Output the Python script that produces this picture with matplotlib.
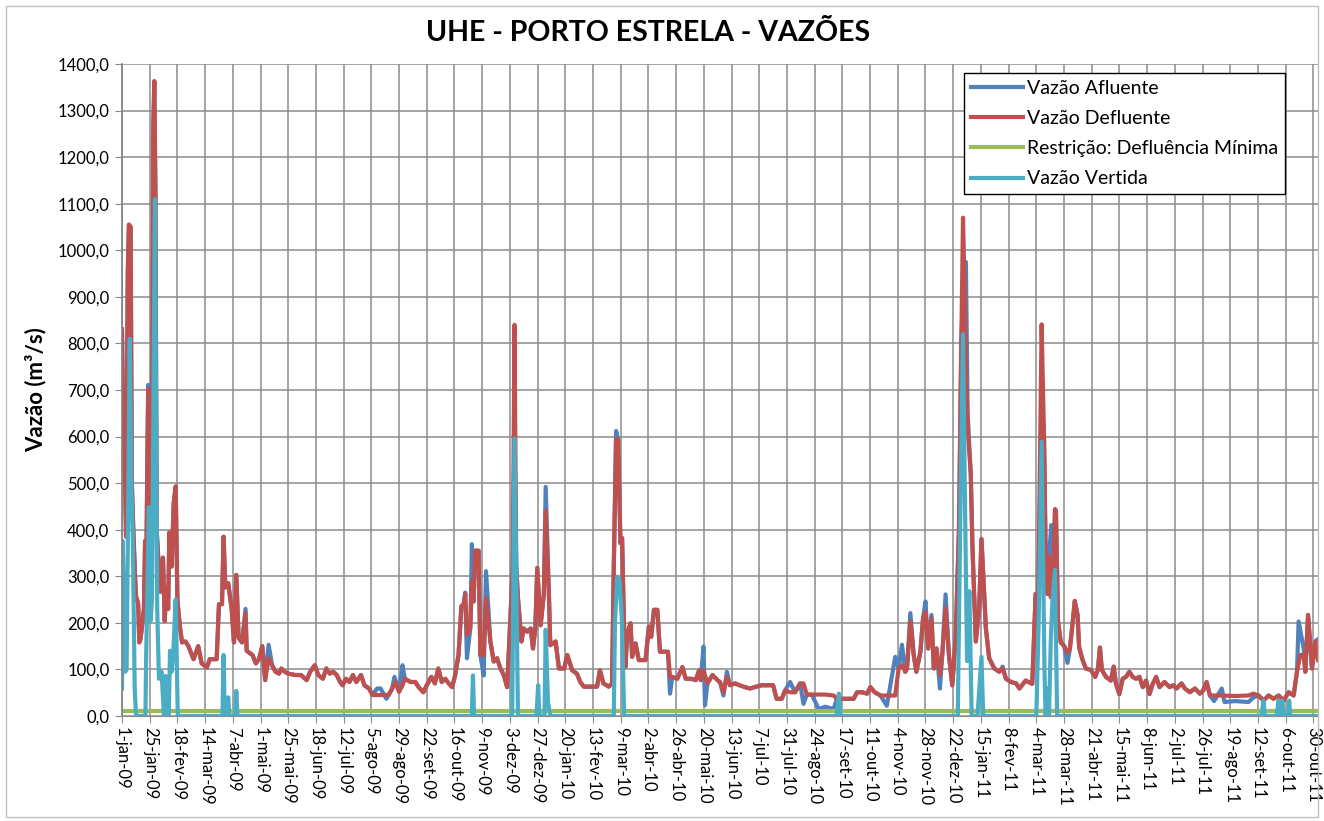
import matplotlib
matplotlib.use("Agg")
import matplotlib.pyplot as plt
from matplotlib.patches import Rectangle

# ---------------- data (days since 1-jan-2009, m3/s) ----------------
defl_days = [0, 1, 2, 3.5, 5, 6, 7.5, 8.5, 10, 12, 13, 14, 15, 16, 17, 19, 20, 21, 22, 22.7, 23.5, 24.4, 26, 27, 28, 29, 30,
             31.4, 33.4, 35.5, 37, 38.4, 40, 41, 43, 44.8, 46.5, 48, 50, 52, 55, 57.5, 62, 66, 69, 73.5, 76, 82, 84, 86.6,
             88, 89.5, 92, 95, 97, 99, 101, 104, 107, 108, 113, 116, 118.6, 121.5, 124, 127, 130, 133, 136, 138, 141, 144,
             150, 155, 160, 163, 167, 170, 174, 177, 180, 183, 186, 189, 191, 194, 197, 200, 203, 207, 210, 214, 217, 221,
             227, 231, 234, 237, 240, 243, 245, 250, 254, 257, 261, 264, 268, 271, 274, 277, 280, 283, 286, 288.6, 291.5,
             294, 296, 297.3, 298.8, 301.7, 303.1, 304.6, 306, 308.9, 310.4, 313.3, 315.3, 319.1, 322, 324.9, 327.8, 330.7,
             333.6, 336.5, 338.5, 340, 341.5, 343, 346, 348, 351, 354, 356, 358, 359.7, 362.6, 365.4, 367, 369.8, 371,
             375.6, 378.5, 383, 385.7, 388.6, 390, 394, 397, 400, 406, 411.5, 414, 417, 421.6, 424.5, 426, 428, 429.7,
             431.8, 433.2, 434.7, 436.1, 437.6, 440.5, 441.9, 444.8, 447.7, 450.6, 453.5, 456.4, 458.4, 460.8, 463.7, 466,
             469.4, 472.9, 474.7, 476.7, 481, 485.4, 488.3, 492.6, 497, 499.9, 501.3, 503.7, 507.1, 511.5, 515.8, 518, 521,
             524, 526.6, 531, 535, 539.6, 544, 548, 554, 560, 564, 567, 571.5, 574.4, 578.7, 583, 587.4, 590.3, 593.2,
             597.6, 603.4, 609.2, 616.4, 619.3, 623.7, 628, 633.8, 636.7, 641, 645.4, 648.3, 652, 657, 662.5, 669.8, 672.7,
             675.6, 678.5, 680, 682.9, 685.8, 688.1, 691.6, 693.9, 696, 698.3, 701.2, 703.2, 705.6, 708.5, 710.5, 713.4,
             716.3, 719.2, 722.1, 725, 727, 728.5, 730, 731.5, 733, 735.2, 736.7, 739.6, 742.5, 744.5, 748.3, 751.2, 755.6,
             759.9, 762.8, 765.7, 770.1, 774.5, 777.4, 782.7, 788.5, 791.4, 793.7, 796.6, 798.7, 800.1, 801.6, 803, 804.5,
             806.8, 808.2, 809, 810.8, 813.2, 816, 819, 821, 823.3, 825.3, 827.7, 829.1, 832, 834.9, 839.2, 843, 845.3,
             847.1, 848.8, 852.3, 856.6, 859, 861, 863.9, 866.8, 869.7, 872.6, 875.5, 878.4, 881.3, 884.2, 887.1, 890,
             892.9, 895.8, 898.7, 903, 907.4, 910.6, 913.4, 917.8, 920.7, 925, 929.4, 933.7, 936.6, 939.5, 942.4, 952.6,
             964.2, 975.8, 980.1, 984.5, 988.8, 993.2, 997.5, 1001.9, 1006.2, 1010.6, 1014.9, 1017.8, 1020.7, 1023.6, 1025,
             1027.4, 1030.8, 1033.7, 1036]
defl_vals = [830, 625, 620, 385, 950, 1055, 1050, 500, 385, 258, 250, 240, 158, 165, 185, 230, 376, 300, 560, 702, 650, 457, 500, 1250, 1363, 1110, 400,
             340, 267, 340, 204, 276, 230, 394, 321, 457, 493, 249, 195, 158, 160, 150, 122, 150, 113, 104, 122, 122, 240, 240,
             385, 276, 285, 230, 158, 303, 168, 158, 221, 140, 131, 113, 122, 150, 77, 124, 109, 95, 91, 102, 95, 91,
             88, 88, 77, 95, 109, 88, 80, 102, 91, 95, 88, 73, 66, 80, 73, 88, 73, 88, 66, 59, 45, 45,
             45, 45, 59, 73, 52, 66, 80, 73, 73, 62, 51, 66, 84, 70, 102, 73, 80, 70, 62, 88, 131,
             236, 240, 261, 174, 188, 290, 246, 355, 355, 131, 131, 253, 160, 117, 124, 102, 88,
             62, 217, 320, 840, 320, 253, 160, 188, 181, 188, 145, 188, 318, 195, 261, 441, 261, 152,
             160, 102, 102, 131, 109, 98, 91, 73, 63, 63, 63, 98, 70, 63, 70, 321, 594, 594,
             371, 382, 206, 105, 177, 199, 127, 156, 120, 120, 120, 192, 170, 228, 228, 138,
             138, 138, 84, 84, 80, 105, 80, 80, 77, 98, 77, 98, 70, 88, 77, 73, 51,
             84, 66, 70, 66, 62, 59, 62, 66, 66, 66, 37, 37, 55, 51, 51, 70, 70, 46,
             46, 46, 46, 44, 37, 37, 37, 37, 51, 51, 48, 62, 51, 44, 44, 44, 102,
             109, 95, 102, 203, 131, 95, 138, 210, 224, 145, 210, 102, 145, 88, 131, 232,
             131, 66, 167, 400, 800, 1070, 900, 700, 600, 521, 362, 160, 232, 380, 188, 124, 102,
             95, 102, 80, 73, 70, 59, 76, 69, 262, 255, 841, 596, 344, 262, 344, 255,
             300, 444, 440, 203, 158, 151, 136, 143, 196, 247, 218, 147, 121, 102, 99, 84, 99,
             147, 99, 84, 76, 106, 69, 47, 80, 84, 95, 84, 80, 84, 62, 76, 47,
             69, 84, 62, 73, 62, 66, 59, 70, 59, 51, 59, 48, 55, 73, 44, 44,
             43, 44, 48, 44, 33, 44, 37, 44, 33, 51, 44, 95, 131, 131, 95,
             217, 102, 160, 120]

aflu_days = [0, 1, 2, 3.5, 5, 6, 7.5, 8.5, 10, 12, 13, 14, 15, 16, 17, 19, 20, 21, 22, 22.7, 23.5, 24.4, 26, 27, 28, 29, 30,
             31.4, 33.4, 35.5, 37, 38.4, 40, 41, 43, 44.8, 46.5, 48, 50, 52, 55, 57.5, 62, 66, 69, 73.5, 76, 82, 84, 86.6,
             88, 89.5, 92, 95, 97, 99, 101, 104, 107, 108, 113, 116, 118.6, 121.5, 124, 127, 130, 133, 136, 138, 141, 144,
             150, 155, 160, 163, 167, 170, 174, 177, 180, 183, 186, 189, 191, 194, 197, 200, 203, 207, 210, 214, 217, 221,
             224, 229, 231, 234, 236, 240, 243, 245, 250, 254, 257, 261, 264, 268, 271, 274, 277, 280, 283, 286, 288.6, 291.5,
             294, 296, 297.3, 298.8, 301.7, 303.1, 304.6, 306, 308.9, 310.4, 313.3, 315.3, 319.1, 322, 324.9, 327.8, 330.7,
             333.6, 336.5, 338.5, 340, 341.5, 343, 346, 348, 351, 354, 356, 358, 359.7, 362.6, 365.4, 367, 369.8, 371,
             375.6, 378.5, 383, 385.7, 388.6, 390, 394, 397, 400, 406, 411.5, 414, 417, 421.6, 424.5, 426, 428, 429.7,
             431.8, 433.2, 434.7, 436.1, 437.6, 440.5, 441.9, 444.8, 447.7, 450.6, 453.5, 456.4, 458.4, 460.8, 463.7, 466,
             469.4, 472.9, 474.7, 476.7, 481, 485.4, 488.3, 492.6, 497, 499.9, 501.3, 503.7, 505, 507.1, 511.5, 515.8, 518, 521,
             524, 526.6, 531, 535, 539.6, 544, 548, 554, 560, 564, 567, 571.5, 574.4, 578.7, 583, 587.4, 590.3, 593.2,
             597.6, 603.4, 609.2, 616.4, 619.3, 623.7, 628, 633.8, 636.7, 641, 645.4, 648.3, 652, 657, 662.5, 669.8, 672.7,
             675.6, 678.5, 680, 682.9, 685.8, 688.1, 691.6, 693.9, 696, 698.3, 701.2, 703.2, 705.6, 708.5, 710.5, 713.4,
             716.3, 719.2, 722.1, 725, 727, 728.5, 731, 732.5, 735.2, 736.7, 739.6, 742.5, 744.5, 748.3, 751.2, 755.6,
             759.9, 762.8, 765.7, 770.1, 774.5, 777.4, 782.7, 788.5, 791.4, 793.7, 796.6, 798.7, 800.1, 801.6, 803, 805,
             806.8, 808.2, 809, 810.8, 813.2, 816, 819, 821, 823.3, 825.3, 827.7, 829.1, 832, 834.9, 839.2, 843, 845.3,
             847.1, 848.8, 852.3, 856.6, 859, 861, 863.9, 866.8, 869.7, 872.6, 875.5, 878.4, 881.3, 884.2, 887.1, 890,
             892.9, 895.8, 898.7, 903, 907.4, 910.6, 913.4, 917.8, 920.7, 925, 929.4, 933.7, 936.6, 939.5, 942.4, 946,
             952.6, 955, 964.2, 975.8, 980.1, 984.5, 988.8, 993.2, 997.5, 1001.9, 1006.2, 1010.6, 1014.9, 1017.8, 1019.2, 1023.6,
             1025, 1027.4, 1030.8, 1033.7, 1036]
aflu_vals = [830, 625, 620, 385, 950, 1055, 1050, 500, 385, 258, 250, 240, 158, 165, 185, 230, 376, 300, 560, 711, 650, 457, 500, 1250, 1363, 1110, 400,
             340, 267, 340, 204, 276, 230, 394, 321, 457, 493, 249, 195, 158, 160, 150, 122, 150, 113, 104, 122, 122, 240, 240,
             385, 276, 285, 230, 158, 303, 168, 158, 230, 140, 131, 113, 122, 150, 77, 153, 109, 95, 91, 102, 95, 91,
             88, 88, 77, 95, 109, 88, 80, 102, 91, 95, 88, 73, 66, 80, 73, 88, 73, 88, 66, 59, 45, 59,
             59, 37, 45, 59, 84, 52, 109, 80, 73, 73, 62, 51, 66, 84, 70, 102, 73, 80, 70, 62, 88, 131,
             236, 240, 265, 124, 188, 369, 246, 355, 355, 131, 87, 311, 160, 117, 124, 102, 88,
             62, 217, 320, 600, 320, 253, 160, 188, 181, 188, 145, 188, 318, 195, 261, 492, 261, 152,
             160, 102, 102, 131, 109, 98, 91, 73, 63, 63, 63, 98, 70, 63, 70, 321, 612, 594,
             371, 382, 206, 105, 177, 199, 127, 156, 120, 120, 120, 192, 170, 228, 228, 138,
             138, 138, 48, 84, 80, 105, 80, 80, 77, 98, 77, 149, 23, 70, 88, 77, 73, 44,
             95, 66, 70, 66, 62, 59, 62, 66, 66, 66, 37, 37, 55, 73, 51, 70, 26, 46,
             46, 15, 20, 15, 37, 37, 37, 37, 51, 51, 48, 62, 51, 44, 22, 127, 102,
             153, 95, 102, 221, 131, 95, 138, 210, 246, 145, 217, 102, 145, 59, 131, 261,
             131, 66, 167, 400, 800, 900, 975, 650, 521, 362, 160, 232, 380, 188, 124, 102,
             95, 106, 80, 73, 70, 59, 76, 69, 262, 255, 680, 596, 344, 262, 344, 410,
             300, 444, 440, 203, 158, 151, 114, 143, 196, 247, 218, 147, 121, 102, 99, 84, 99,
             147, 99, 84, 76, 106, 69, 47, 80, 84, 95, 84, 80, 84, 62, 76, 47,
             69, 84, 62, 73, 62, 66, 59, 70, 59, 51, 59, 48, 55, 73, 44, 32,
             59, 30, 32, 30, 40, 44, 33, 44, 37, 44, 33, 51, 44, 95, 203, 145,
             95, 217, 102, 160, 165]

vert_days = [0, 0.6, 2.9, 4, 6.7, 8, 9.3, 11, 12.2, 20.3, 20.9, 23.3, 24.7, 26, 28.5, 30.5, 32, 34.3, 36.3, 37.8, 39.2,
             40.5, 41.6, 43, 44.5, 46.5, 48.3, 87, 88, 89, 91, 92, 93, 98, 99, 100, 303, 304, 305, 338, 340, 343, 359,
             360.5, 361.5, 366, 367, 369, 371, 426, 427, 429, 431, 433, 435, 619, 621, 622, 724, 726, 728.5, 730, 732,
             734, 736, 741, 744.5, 746, 792, 794, 796.6, 799, 800, 802, 803, 804.5, 806, 808.2, 810, 987, 988.8, 990,
             1000, 1001.9, 1003, 1005, 1006.5, 1010, 1011, 1012, 1036]
vert_vals = [59, 376, 95, 100, 810, 500, 385, 60, 0, 0, 122, 448, 204, 250, 1110, 230, 80, 95, 0, 86, 0,
             0, 140, 95, 140, 250, 0, 0, 131, 0, 0, 40, 0, 0, 54, 0, 0, 87, 0, 0, 596, 0, 0,
             66, 0, 0, 185, 30, 0, 0, 200, 299, 290, 206, 0, 0, 48, 0, 0, 400, 820, 500, 118,
             268, 0, 0, 127, 0, 0, 200, 589, 110, 0, 60, 0, 158, 250, 314, 0, 0, 33, 0,
             0, 33, 0, 33, 0, 0, 33, 0, 0]

min_days = [0, 1036]
min_vals = [10, 10]

tick_labels = ["1-jan-09", "25-jan-09", "18-fev-09", "14-mar-09", "7-abr-09", "1-mai-09", "25-mai-09", "18-jun-09",
               "12-jul-09", "5-ago-09", "29-ago-09", "22-set-09", "16-out-09", "9-nov-09", "3-dez-09", "27-dez-09",
               "20-jan-10", "13-fev-10", "9-mar-10", "2-abr-10", "26-abr-10", "20-mai-10", "13-jun-10", "7-jul-10",
               "31-jul-10", "24-ago-10", "17-set-10", "11-out-10", "4-nov-10", "28-nov-10", "22-dez-10", "15-jan-11",
               "8-fev-11", "4-mar-11", "28-mar-11", "21-abr-11", "15-mai-11", "8-jun-11", "2-jul-11", "26-jul-11",
               "19-ago-11", "12-set-11", "6-out-11", "30-out-11"]
tick_days = [24 * i for i in range(len(tick_labels))]
y_ticks = list(range(0, 1401, 100))

# ---------------- figure ----------------
plt.rcParams['font.family'] = ['Lato', 'DejaVu Sans']
W, H = 1324, 821
fig = plt.figure(figsize=(W / 100, H / 100), dpi=100)
fig.patches.append(Rectangle((6 / W, 4 / H), 1312 / W, 811 / H, transform=fig.transFigure,
                             fill=False, edgecolor='#bfbfbf', linewidth=1.0))

ax = fig.add_axes([122 / W, 1 - 716 / H, (1318 - 122) / W, (716 - 64) / H])
LW = 3.0
ax.plot(aflu_days, aflu_vals, color='#4F81BD', lw=LW, label='Vazão Afluente', solid_joinstyle='round')
ax.plot(defl_days, defl_vals, color='#C0504D', lw=LW, label='Vazão Defluente', solid_joinstyle='round')
ax.plot(min_days, min_vals, color='#9BBB59', lw=LW, label='Restrição: Defluência Mínima')
ax.plot(vert_days, vert_vals, color='#4BACC6', lw=LW, label='Vazão Vertida', solid_joinstyle='round')

ax.set_xlim(0, 1036)
ax.set_ylim(0, 1400)
ax.set_yticks(y_ticks)
ax.set_yticklabels([f"{v:.1f}".replace('.', ',') for v in y_ticks], fontsize=12)
ax.set_xticks(tick_days)
ax.set_xticklabels(tick_labels, rotation=-90, fontsize=12, va='top', ha='center')
ax.grid(True, color='#8c8c8c', linewidth=1.1)
ax.set_axisbelow(True)
for s in ['top', 'right']:
    ax.spines[s].set_visible(False)
ax.spines['left'].set_color('#7f7f7f')
ax.spines['left'].set_linewidth(1.2)
ax.spines['bottom'].set_color('#8c8c8c')
ax.tick_params(axis='x', length=5, color='#8c8c8c', pad=3)
ax.tick_params(axis='y', length=5, color='#8c8c8c', pad=4)

ax.set_ylabel('Vazão (m³/s)', fontsize=16, fontweight='bold', labelpad=8)
fig.text(648 / W, 1 - 33 / H, 'UHE - PORTO ESTRELA - VAZÕES', ha='center', va='center',
         fontsize=20.5, fontweight='bold')

leg = ax.legend(loc='upper right', bbox_to_anchor=(1285 / W, 1 - 73 / H), bbox_transform=fig.transFigure,
                fontsize=14, frameon=True, fancybox=False, borderpad=0.35, labelspacing=0.68,
                handlelength=2.7, handletextpad=0.2, borderaxespad=0)
leg.get_frame().set_edgecolor('black')
leg.get_frame().set_linewidth(1.0)
leg.get_frame().set_alpha(1)

fig.savefig('out.png', dpi=100)
